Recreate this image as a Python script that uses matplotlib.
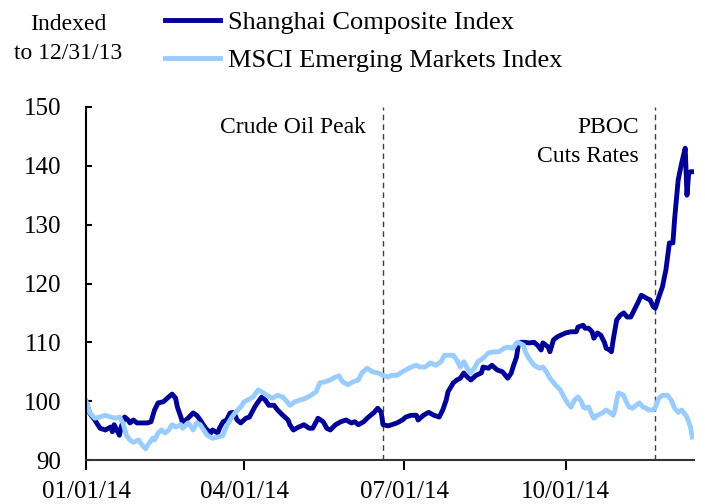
import matplotlib
matplotlib.use('Agg')
import matplotlib.pyplot as plt
import matplotlib.dates as mdates
import pandas as pd

plt.rcParams['font.family'] = ['Liberation Serif', 'DejaVu Serif']

# Shanghai Composite, indexed to 12/31/13
sh_dates = ['2014-01-01', '2014-01-03', '2014-01-06', '2014-01-09', '2014-01-12', '2014-01-15',
            '2014-01-16', '2014-01-17', '2014-01-20', '2014-01-21', '2014-01-23', '2014-01-25',
            '2014-01-26', '2014-01-28', '2014-01-30', '2014-02-05', '2014-02-07', '2014-02-09',
            '2014-02-11', '2014-02-14', '2014-02-17', '2014-02-19', '2014-02-21', '2014-02-22',
            '2014-02-24', '2014-02-25', '2014-02-28', '2014-03-03', '2014-03-05', '2014-03-07',
            '2014-03-10', '2014-03-13', '2014-03-14', '2014-03-17', '2014-03-18', '2014-03-20',
            '2014-03-22', '2014-03-24', '2014-03-26', '2014-03-28', '2014-03-30', '2014-04-02',
            '2014-04-04', '2014-04-07', '2014-04-09', '2014-04-11', '2014-04-13', '2014-04-15',
            '2014-04-18', '2014-04-20', '2014-04-23', '2014-04-26', '2014-04-27', '2014-04-29',
            '2014-05-02', '2014-05-05', '2014-05-08', '2014-05-10', '2014-05-12', '2014-05-13',
            '2014-05-16', '2014-05-18', '2014-05-20', '2014-05-23', '2014-05-26', '2014-05-29',
            '2014-06-01', '2014-06-03', '2014-06-05', '2014-06-08', '2014-06-10', '2014-06-12',
            '2014-06-14', '2014-06-16', '2014-06-18', '2014-06-19', '2014-06-22', '2014-06-24',
            '2014-06-27', '2014-06-30', '2014-07-02', '2014-07-05', '2014-07-08', '2014-07-09',
            '2014-07-12', '2014-07-15', '2014-07-18', '2014-07-21', '2014-07-23', '2014-07-25',
            '2014-07-26', '2014-07-29', '2014-07-31', '2014-08-02', '2014-08-04', '2014-08-06',
            '2014-08-08', '2014-08-11', '2014-08-14', '2014-08-15', '2014-08-18', '2014-08-20',
            '2014-08-23', '2014-08-26', '2014-08-29', '2014-08-31', '2014-09-01', '2014-09-03',
            '2014-09-04', '2014-09-05', '2014-09-08', '2014-09-10', '2014-09-13', '2014-09-15',
            '2014-09-17', '2014-09-18', '2014-09-21', '2014-09-22', '2014-09-24', '2014-09-26',
            '2014-09-28', '2014-10-01', '2014-10-04', '2014-10-07', '2014-10-08', '2014-10-11',
            '2014-10-12', '2014-10-14', '2014-10-16', '2014-10-17', '2014-10-19', '2014-10-21',
            '2014-10-23', '2014-10-24', '2014-10-26', '2014-10-27', '2014-10-28', '2014-10-29',
            '2014-10-30', '2014-11-01', '2014-11-03', '2014-11-05', '2014-11-07', '2014-11-09',
            '2014-11-11', '2014-11-13', '2014-11-16', '2014-11-18', '2014-11-20', '2014-11-21',
            '2014-11-23', '2014-11-25', '2014-11-27', '2014-11-29', '2014-12-01', '2014-12-02',
            '2014-12-04', '2014-12-06', '2014-12-08', '2014-12-09', '2014-12-10', '2014-12-11',
            '2014-12-12']
shanghai = [100.0, 98.0, 96.8, 95.4, 95.1, 95.6,
            94.8, 96.0, 94.2, 95.6, 97.3, 96.8,
            96.3, 96.8, 96.3, 96.3, 96.5, 98.5,
            99.7, 99.9, 100.7, 101.2, 100.5, 99.0,
            97.3, 96.3, 97.1, 98.0, 97.6, 96.8,
            95.4, 94.6, 95.1, 94.6, 95.4, 96.5,
            96.8, 98.0, 98.1, 96.8, 96.3, 97.1,
            97.3, 99.0, 99.9, 100.7, 100.2, 99.3,
            99.3, 98.5, 97.6, 96.8, 96.0, 95.1,
            95.6, 96.0, 95.4, 95.4, 96.5, 97.1,
            96.5, 95.4, 95.1, 96.0, 96.5, 96.8,
            96.3, 96.5, 96.0, 96.5, 97.1, 97.6,
            98.1, 98.8, 98.1, 96.0, 95.8, 96.0,
            96.3, 96.8, 97.3, 97.6, 97.6, 96.8,
            97.6, 98.1, 97.6, 97.3, 98.5, 100.2,
            101.6, 103.1, 103.6, 103.9, 104.8, 104.1,
            103.6, 104.4, 104.8, 105.8, 105.6, 106.1,
            105.3, 105.0, 103.9, 104.8, 105.8, 107.5,
            109.5, 110.0, 110.0, 109.9, 110.0, 109.5,
            108.7, 109.9, 109.2, 108.4, 110.4, 110.9,
            111.2, 111.6, 111.8, 111.8, 112.6, 112.9,
            112.4, 112.4, 111.8, 110.7, 111.6, 111.2,
            110.0, 109.0, 108.7, 108.4, 110.4, 112.1,
            113.8, 114.6, 115.0, 114.3, 114.3, 115.5,
            116.7, 118.0, 117.5, 117.2, 116.0, 115.8,
            117.7, 119.4, 122.3, 126.9, 126.9, 131.1,
            137.6, 140.5, 143.0, 135.0, 138.8, 139.0,
            139.0]

# MSCI Emerging Markets, indexed to 12/31/13
em_dates = ['2014-01-01', '2014-01-03', '2014-01-06', '2014-01-09', '2014-01-12', '2014-01-15',
            '2014-01-18', '2014-01-20', '2014-01-22', '2014-01-24', '2014-01-26', '2014-01-28',
            '2014-01-31', '2014-02-02', '2014-02-04', '2014-02-05', '2014-02-08', '2014-02-09',
            '2014-02-11', '2014-02-13', '2014-02-15', '2014-02-17', '2014-02-19', '2014-02-21',
            '2014-02-24', '2014-02-25', '2014-02-28', '2014-03-01', '2014-03-03', '2014-03-05',
            '2014-03-07', '2014-03-09', '2014-03-11', '2014-03-14', '2014-03-17', '2014-03-20',
            '2014-03-21', '2014-03-23', '2014-03-25', '2014-03-27', '2014-03-30', '2014-04-01',
            '2014-04-03', '2014-04-06', '2014-04-09', '2014-04-11', '2014-04-14', '2014-04-17',
            '2014-04-20', '2014-04-23', '2014-04-26', '2014-04-27', '2014-04-30', '2014-05-03',
            '2014-05-06', '2014-05-09', '2014-05-12', '2014-05-14', '2014-05-17', '2014-05-20',
            '2014-05-23', '2014-05-25', '2014-05-27', '2014-05-30', '2014-06-02', '2014-06-05',
            '2014-06-07', '2014-06-10', '2014-06-13', '2014-06-16', '2014-06-19', '2014-06-22',
            '2014-06-24', '2014-06-27', '2014-06-30', '2014-07-02', '2014-07-05', '2014-07-08',
            '2014-07-10', '2014-07-13', '2014-07-16', '2014-07-19', '2014-07-22', '2014-07-24',
            '2014-07-26', '2014-07-29', '2014-07-31', '2014-08-02', '2014-08-04', '2014-08-06',
            '2014-08-08', '2014-08-10', '2014-08-12', '2014-08-15', '2014-08-18', '2014-08-21',
            '2014-08-24', '2014-08-27', '2014-08-29', '2014-09-01', '2014-09-03', '2014-09-04',
            '2014-09-07', '2014-09-08', '2014-09-10', '2014-09-13', '2014-09-16', '2014-09-18',
            '2014-09-20', '2014-09-22', '2014-09-25', '2014-09-28', '2014-09-30', '2014-10-02',
            '2014-10-04', '2014-10-06', '2014-10-08', '2014-10-10', '2014-10-11', '2014-10-12',
            '2014-10-14', '2014-10-16', '2014-10-17', '2014-10-19', '2014-10-22', '2014-10-24',
            '2014-10-26', '2014-10-28', '2014-10-29', '2014-10-30', '2014-10-31', '2014-11-03',
            '2014-11-04', '2014-11-06', '2014-11-08', '2014-11-10', '2014-11-12', '2014-11-14',
            '2014-11-16', '2014-11-17', '2014-11-20', '2014-11-21', '2014-11-23', '2014-11-25',
            '2014-11-28', '2014-11-30', '2014-12-02', '2014-12-04', '2014-12-06', '2014-12-07',
            '2014-12-09', '2014-12-11', '2014-12-12']
msci_em = [100.0, 98.1, 97.1, 97.3, 97.6, 97.3,
           97.1, 97.3, 96.3, 94.2, 93.4, 93.0,
           93.4, 92.5, 91.9, 92.5, 93.7, 93.4,
           94.6, 95.1, 94.6, 95.1, 96.0, 95.6,
           96.0, 95.4, 96.3, 96.0, 95.1, 96.3,
           96.0, 95.1, 94.2, 93.7, 93.9, 94.2,
           95.1, 96.3, 97.3, 98.1, 99.0, 99.9,
           100.2, 100.7, 101.9, 101.6, 101.0, 100.5,
           101.0, 100.7, 99.7, 99.3, 99.9, 100.2,
           100.5, 101.0, 101.6, 103.1, 103.3, 103.6,
           104.1, 104.3, 103.3, 102.8, 103.3, 103.6,
           104.8, 105.6, 105.0, 104.8, 104.4, 104.1,
           104.4, 104.4, 105.0, 105.3, 105.8, 106.1,
           105.8, 105.8, 106.5, 106.1, 106.7, 107.8,
           107.8, 107.8, 107.0, 105.8, 106.7, 105.6,
           104.8, 105.6, 106.7, 107.3, 108.2, 108.4,
           108.4, 109.0, 109.2, 109.0, 109.9, 110.0,
           109.5, 108.4, 107.3, 106.1, 105.6, 105.8,
           105.0, 103.9, 102.8, 101.9, 100.7, 99.7,
           99.0, 100.2, 100.7, 99.9, 99.0, 98.8,
           99.0, 97.6, 97.1, 97.6, 98.0, 98.5,
           98.1, 97.6, 98.5, 100.2, 101.4, 101.0,
           100.2, 99.0, 98.8, 99.3, 99.7, 99.0,
           98.8, 98.5, 98.5, 99.0, 100.5, 101.0,
           101.0, 100.2, 98.8, 98.1, 98.5, 98.1,
           97.3, 95.6, 93.9]

events = ['2014-06-19', '2014-11-21']
event_labels = ['Crude Oil Peak', 'PBOC\nCuts Rates']
tick_dates = ['2014-01-01', '2014-04-01', '2014-07-01', '2014-10-01']

dark = '#000096'
light = '#99ccff'

fig = plt.figure(figsize=(7.05, 5.04), dpi=100)
ax = fig.add_axes([0.122, 0.0873, 0.8624, 0.7004])

ax.plot(pd.to_datetime(sh_dates), shanghai, color=dark, lw=3.5,
        label='Shanghai Composite Index', solid_joinstyle='round')
ax.plot(pd.to_datetime(em_dates), msci_em, color=light, lw=3.5,
        label='MSCI Emerging Markets Index', solid_joinstyle='round')

for d, lab in zip(events, event_labels):
    ax.axvline(pd.Timestamp(d), color='#404040', lw=1, ls=(0, (4, 3)), zorder=1)
    ax.annotate(lab, xy=(pd.Timestamp(d), 148.3), xytext=(-12, 0),
                textcoords='offset points', ha='right', va='top',
                multialignment='right', fontsize=17, linespacing=1.5)

ax.set_ylim(90, 150)
ax.set_yticks(range(90, 151, 10))
ax.set_xlim(pd.Timestamp('2014-01-01'), pd.Timestamp('2014-12-13'))
ax.set_xticks(pd.to_datetime(tick_dates))
ax.xaxis.set_major_formatter(mdates.DateFormatter('%m/%d/%y'))

ax.spines['top'].set_visible(False)
ax.spines['right'].set_visible(False)
ax.spines['left'].set_linewidth(1.5)
ax.spines['bottom'].set_linewidth(1.5)
ax.spines['bottom'].set_color('#333333')
ax.tick_params(axis='y', direction='in', length=4, width=1.5, pad=18, labelsize=18)
ax.tick_params(axis='x', direction='out', length=7, width=1.5, pad=8, labelsize=18)

fig.text(68 / 705, 1 - 39 / 504, 'Indexed\nto 12/31/13', ha='center', va='center',
         fontsize=17, linespacing=1.55)

fig.legend(loc='upper left', bbox_to_anchor=(165 / 705, 1 - 11 / 504), frameon=False,
           fontsize=19, handlelength=2.1, handletextpad=0.3, labelspacing=0.55,
           borderpad=0, borderaxespad=0)

fig.savefig('out.png', dpi=100)
